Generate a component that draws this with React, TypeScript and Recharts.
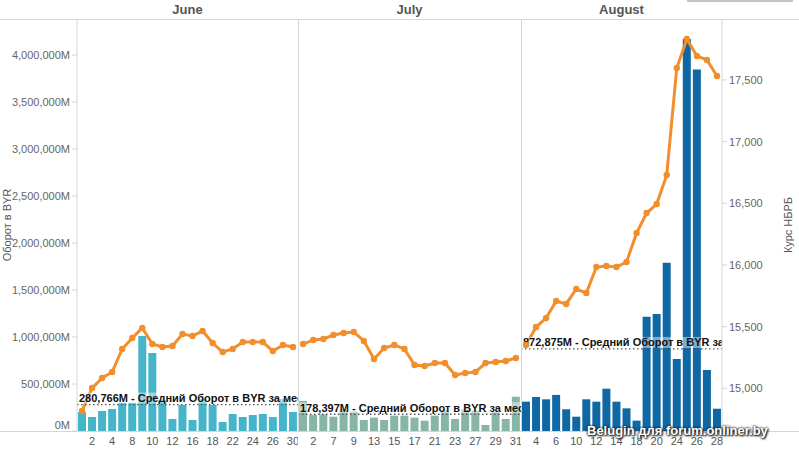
import React from "react";
import { ComposedChart, Bar, Line, XAxis, YAxis, ReferenceLine } from "recharts";

const FONT = '"Liberation Sans", Arial, sans-serif';
const ORANGE = "#f28e2b";
const GRID = "#d6d6d6";

// working days per month (NBRB publishes only on business days)
const juneDays = [1, 2, 3, 4, 5, 8, 9, 10, 11, 12, 15, 16, 17, 18, 19, 22, 23, 24, 25, 26, 29, 30];
const juneTurnover = [202000, 149000, 213000, 234000, 300000, 300000, 1010000, 830000, 330000, 128000, 277000, 117000, 340000, 277000, 96000, 181000, 149000, 170000, 181000, 149000, 340000, 202000];
const juneRate = [14816, 15002, 15084, 15132, 15319, 15408, 15489, 15359, 15335, 15343, 15440, 15424, 15465, 15367, 15294, 15319, 15375, 15375, 15375, 15302, 15351, 15335];
const juneAvg = 280766;

const julyDays = [1, 2, 6, 7, 8, 9, 10, 13, 14, 15, 16, 17, 20, 21, 22, 23, 24, 27, 28, 29, 30, 31];
const julyTurnover = [320000, 170000, 177000, 152000, 230000, 206000, 117000, 142000, 117000, 163000, 163000, 142000, 110000, 163000, 223000, 128000, 230000, 216000, 64000, 199000, 128000, 365000];
const julyRate = [15359, 15392, 15400, 15432, 15448, 15457, 15384, 15238, 15327, 15351, 15319, 15189, 15181, 15205, 15205, 15108, 15124, 15132, 15205, 15213, 15221, 15246];
const julyAvg = 178397;

const augDays = [3, 4, 5, 6, 7, 10, 11, 12, 13, 14, 17, 18, 19, 20, 21, 24, 25, 26, 27, 28];
const augTurnover = [312000, 362000, 337000, 384000, 231000, 152000, 337000, 312000, 450000, 312000, 241000, 110000, 1216000, 1245000, 1790000, 766000, 4170000, 3845000, 649000, 237000];
const augRate = [15351, 15497, 15570, 15708, 15684, 15805, 15773, 15983, 15992, 15983, 16024, 16259, 16421, 16494, 16729, 17597, 17832, 17694, 17662, 17532];
const augAvg = 872875;

const turnoverTicks = [0, 500000, 1000000, 1500000, 2000000, 2500000, 3000000, 3500000, 4000000];
const rateTicks = [15000, 15500, 16000, 16500, 17000, 17500];
const turnoverDomain = [0, 4383000];
const rateDomain = [14654, 17994];

const fmt = (v: number) => v.toLocaleString("en-US");

const rows = (days: number[], t: number[], r: number[]) =>
  days.map((d, i) => ({ day: d, turnover: t[i], rate: r[i] }));

const months = [
  { name: "June", color: "#47b5c9", data: rows(juneDays, juneTurnover, juneRate), avg: juneAvg, left: 0, width: 298, axis: "left" },
  { name: "July", color: "#87b5a7", data: rows(julyDays, julyTurnover, julyRate), avg: julyAvg, left: 298, width: 223, axis: "none" },
  { name: "August", color: "#0f67a4", data: rows(augDays, augTurnover, augRate), avg: augAvg, left: 521, width: 278, axis: "right" },
];

function LeftTick({ x, y, payload }: any) {
  return (
    <text x={x} y={payload.value === 0 ? y - 6 : y} dy="0.355em" textAnchor="end" fontSize={11} fill="#666" fontFamily={FONT}>
      {fmt(payload.value)}M
    </text>
  );
}

function RightTick({ x, y, payload }: any) {
  return (
    <text x={x} y={y} dy="0.355em" textAnchor="start" fontSize={11} fill="#666" fontFamily={FONT}>
      {fmt(payload.value)}
    </text>
  );
}

function DayTick({ x, y, payload, index }: any) {
  if (index % 2 === 0) return <g />;
  return (
    <text x={x} y={y} dy="0.71em" textAnchor="middle" fontSize={11} fill="#555" fontFamily={FONT}>
      {payload.value}
    </text>
  );
}

function AvgLabel({ viewBox, text, id }: any) {
  const { x, y, width } = viewBox;
  return (
    <g>
      <defs>
        <clipPath id={id}>
          <rect x={x} y={y - 14} width={width} height={14} />
        </clipPath>
      </defs>
      <g clipPath={`url(#${id})`}>
        <rect x={x} y={y - 12} width={width} height={11} fill="#fff" fillOpacity={0.45} />
        <text x={x + 2} y={y - 2.5} fontSize={11} fontWeight="bold" fill="#111" fontFamily={FONT}>
          {text}
        </text>
      </g>
    </g>
  );
}

function MonthChart({ m }: { m: (typeof months)[number] }) {
  return (
    <ComposedChart
      width={m.width}
      height={455}
      data={m.data}
      margin={{ top: 19, right: 0, bottom: 0, left: 0 }}
      barCategoryGap={1}
    >
      <XAxis dataKey="day" height={24} interval={0} axisLine={false} tickLine={false} tickSize={4} tickMargin={2} tick={<DayTick />} />
      <YAxis
        yAxisId="t"
        orientation="left"
        width={77}
        hide={m.axis !== "left"}
        domain={turnoverDomain}
        ticks={turnoverTicks}
        allowDataOverflow
        axisLine={{ stroke: GRID }}
        tickLine={{ stroke: GRID }}
        tickSize={5}
        tick={<LeftTick />}
        label={{
          content: ({ viewBox }: any) => (
            <text
              x={7}
              y={viewBox.y + viewBox.height / 2}
              transform={`rotate(-90, 7, ${viewBox.y + viewBox.height / 2})`}
              textAnchor="middle"
              dominantBaseline="central"
              fontSize={11}
              fill="#555"
              fontFamily={FONT}
            >
              Оборот в BYR
            </text>
          ),
        }}
      />
      <YAxis
        yAxisId="r"
        orientation="right"
        width={77}
        hide={m.axis !== "right"}
        domain={rateDomain}
        ticks={rateTicks}
        allowDataOverflow
        axisLine={{ stroke: GRID }}
        tickLine={{ stroke: GRID }}
        tickSize={5}
        tick={<RightTick />}
        label={{
          content: ({ viewBox }: any) => {
            const cx = viewBox.x + viewBox.width - 11;
            const cy = viewBox.y + viewBox.height / 2;
            return (
              <text
                x={cx}
                y={cy}
                transform={`rotate(-90, ${cx}, ${cy})`}
                textAnchor="middle"
                dominantBaseline="central"
                fontSize={11}
                fill="#555"
                fontFamily={FONT}
              >
                Курс НБРБ
              </text>
            );
          },
        }}
      />
      <Bar yAxisId="t" dataKey="turnover" fill={m.color} isAnimationActive={false} />
      <Line
        yAxisId="r"
        dataKey="rate"
        type="linear"
        stroke={ORANGE}
        strokeWidth={3}
        dot={{ r: 3.2, fill: ORANGE, stroke: ORANGE, strokeWidth: 0 }}
        activeDot={false}
        isAnimationActive={false}
      />
      <ReferenceLine
        yAxisId="t"
        y={m.avg}
        stroke="#555"
        strokeWidth={1.3}
        strokeDasharray="1.5 2.5"
        label={<AvgLabel id={`clip-${m.name}`} text={`${fmt(m.avg)}M - Средний Оборот в BYR за месяц`} />}
      />
    </ComposedChart>
  );
}

export default function App() {
  return (
    <div style={{ position: "absolute", left: 0, top: 0, width: 799, height: 455, background: "#fff", fontFamily: FONT, overflow: "hidden" }}>
      {months.map((m) => (
        <div key={m.name} style={{ position: "absolute", left: m.left, top: 0 }}>
          <MonthChart m={m} />
        </div>
      ))}
      {/* pane headers */}
      {[
        { name: "June", left: 77, width: 221 },
        { name: "July", left: 298, width: 223 },
        { name: "August", left: 521, width: 201 },
      ].map((h) => (
        <div
          key={h.name}
          style={{ position: "absolute", left: h.left, top: 0, width: h.width, height: 19, lineHeight: "19px", textAlign: "center", fontWeight: "bold", fontSize: 13, color: "#555" }}
        >
          {h.name}
        </div>
      ))}
      {/* frame lines */}
      <div style={{ position: "absolute", left: 0, top: 19, width: 799, height: 1, background: GRID }} />
      <div style={{ position: "absolute", left: 0, top: 431, width: 799, height: 1, background: GRID }} />
      <div style={{ position: "absolute", left: 298, top: 19, width: 1, height: 412, background: GRID }} />
      <div style={{ position: "absolute", left: 521, top: 19, width: 1, height: 412, background: GRID }} />
      <div style={{ position: "absolute", left: 687, top: 0, width: 106, height: 2, background: "#c4c4c4" }} />
      <div
        style={{
          position: "absolute",
          left: 587,
          top: 423,
          fontSize: 13,
          fontWeight: "bold",
          color: "#fff",
          whiteSpace: "nowrap",
          textShadow: "0 0 2px #222, 0 0 3px #222, 1px 1px 2px #000",
        }}
      >
        Belugin для forum.onliner.by
      </div>
    </div>
  );
}
